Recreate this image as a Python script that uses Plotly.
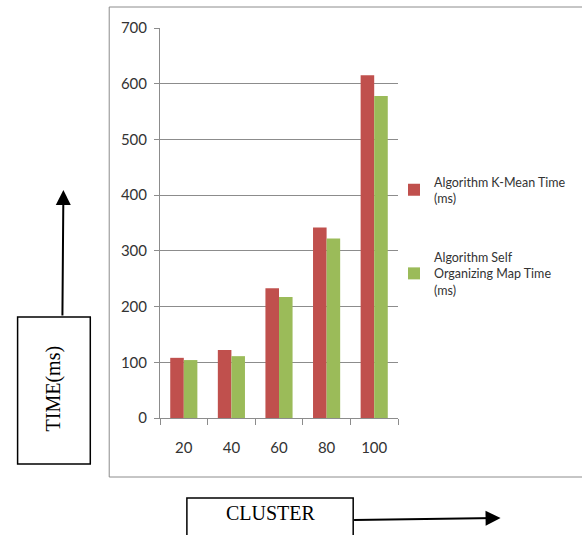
import plotly.graph_objects as go

clusters = ["20", "40", "60", "80", "100"]
kmean_time = [108, 122, 233, 342, 615]
som_time = [104, 111, 217, 322, 578]
series_names = ["Algorithm K-Mean Time<br>(ms)", "Algorithm Self<br>Organizing Map Time<br>(ms)"]
y_ticks = [0, 100, 200, 300, 400, 500, 600, 700]

W, H = 582, 535
L, T = 160, 28
PW, PH = 239, 390
R = W - L - PW
B = H - T - PH

def px(x):
    return (x - L) / PW

def py(y):
    return (T + PH - y) / PH

fig = go.Figure()
fig.add_trace(go.Bar(x=clusters, y=kmean_time, name=series_names[0],
                     marker=dict(color="#C0504D", line=dict(width=0)), legendgroup="a"))
fig.add_trace(go.Bar(x=clusters, y=som_time, name=series_names[1],
                     marker=dict(color="#9BBB59", line=dict(width=0)), legendgroup="b"))

shapes = [
    # outer chart border
    dict(type="rect", xref="paper", yref="paper", x0=px(109), x1=px(600), y0=py(7), y1=py(477),
         line=dict(color="#8c8c8c", width=1), layer="below"),
    # TIME box
    dict(type="rect", xref="paper", yref="paper", x0=px(17), x1=px(90), y0=py(317), y1=py(464),
         line=dict(color="black", width=1.5)),
    # CLUSTER box
    dict(type="rect", xref="paper", yref="paper", x0=px(187), x1=px(354), y0=py(498), y1=py(545),
         line=dict(color="black", width=1.5)),
]

annotations = [
    dict(text="TIME(ms)", xref="paper", yref="paper", x=px(53), y=py(388), showarrow=False,
         textangle=-90, font=dict(family="Liberation Serif", size=20, color="black"),
         xanchor="center", yanchor="middle"),
    dict(text="CLUSTER", xref="paper", yref="paper", x=px(271), y=py(513), showarrow=False,
         font=dict(family="Liberation Serif", size=20, color="black"),
         xanchor="center", yanchor="middle"),
    dict(text="", xref="paper", yref="paper", x=px(63), y=py(190), showarrow=True,
         ax=-1, ay=127, arrowhead=2, arrowwidth=2, arrowsize=1.5, arrowcolor="black"),
    dict(text="", xref="paper", yref="paper", x=px(502), y=py(518), showarrow=True,
         ax=-148, ay=2, arrowhead=2, arrowwidth=2, arrowsize=1.5, arrowcolor="black"),
]

fig.update_layout(
    width=W, height=H,
    margin=dict(l=L, r=R, t=T, b=B, pad=0),
    paper_bgcolor="white", plot_bgcolor="white",
    barmode="group", bargap=0.43, bargroupgap=0,
    font=dict(family="Lato", size=14, color="#333333"),
    showlegend=True,
    legend=dict(x=px(394), y=py(167), xanchor="left", yanchor="top",
                font=dict(family="Lato", size=12.5, color="#333333"),
                traceorder="grouped", tracegroupgap=40, bgcolor="rgba(0,0,0,0)",
                itemwidth=30, borderwidth=0),
    shapes=shapes,
    annotations=annotations,
    xaxis=dict(type="category", showline=True, linecolor="#8c8c8c", linewidth=1,
               ticks="outside", ticklen=6, tickcolor="#8c8c8c", tickson="boundaries",
               showgrid=False, ticklabelstandoff=16, tickfont=dict(size=15)),
    yaxis=dict(range=[0, 700], tickvals=y_ticks, showline=True, linecolor="#8c8c8c", linewidth=1,
               ticks="outside", ticklen=5, tickcolor="#8c8c8c",
               showgrid=True, gridcolor="#8c8c8c", gridwidth=1, zeroline=False,
               ticklabelstandoff=4, tickfont=dict(size=15)),
)

fig.write_html("out.html", config={"displayModeBar": False},
               post_script="document.body.style.margin='0';document.body.style.overflow='hidden';")
